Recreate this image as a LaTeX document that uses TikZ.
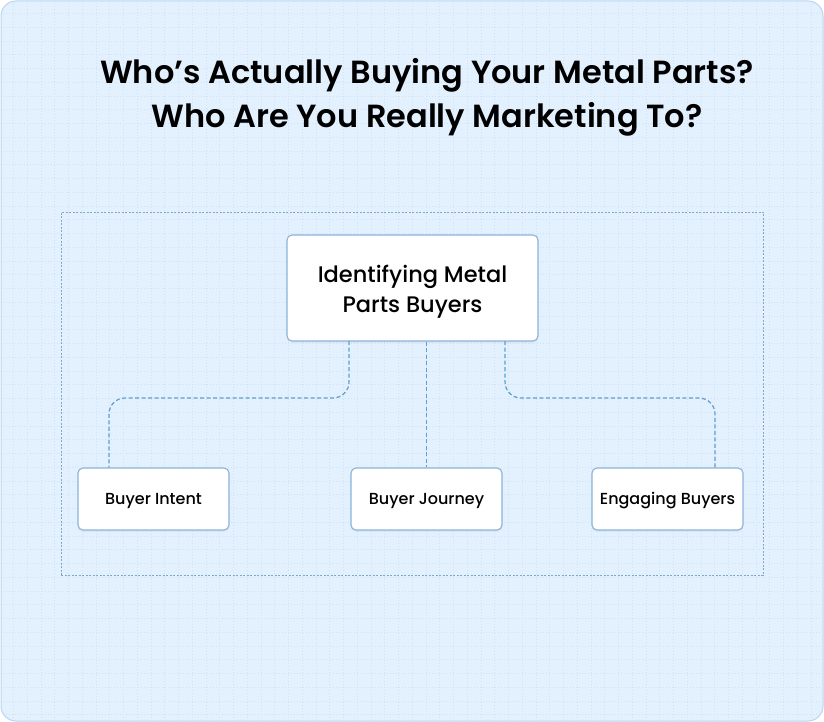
\documentclass[tikz,border=0pt]{standalone}
\usepackage{fontspec}
\setmainfont{Poppins}
\newfontfamily\medfont{Poppins Medium}
\newfontfamily\semifont{Poppins SemiBold}
\usetikzlibrary{shadows}
\definecolor{bgfill}{HTML}{E3F0FD}
\definecolor{bgline}{HTML}{B8D6F2}
\definecolor{gridc}{HTML}{CFE1F3}
\definecolor{framec}{HTML}{7FA8CC}
\definecolor{conn}{HTML}{5C9FD3}
\definecolor{boxline}{HTML}{8BB3DB}
\tikzset{
  topbox/.style={draw=boxline, line width=1.1pt, fill=white, rounded corners=5pt, minimum width=251pt, minimum height=106pt, align=center, font=\medfont\fontsize{22.5}{30}\selectfont, drop shadow={opacity=0.08, shadow xshift=0pt, shadow yshift=-2pt}},
  leafbox/.style={draw=boxline, line width=1.1pt, fill=white, rounded corners=5pt, minimum width=151pt, minimum height=62pt, font=\medfont\fontsize{16}{18}\selectfont, drop shadow={opacity=0.08, shadow xshift=0pt, shadow yshift=-2pt}},
  link/.style={draw=conn, line width=1.2pt, dash pattern=on 4pt off 2.5pt, rounded corners=16pt},
  titletext/.style={font=\semifont\fontsize{32}{44}\selectfont, align=center}
}
\begin{document}
\begin{tikzpicture}[x=1pt,y=-1pt]
\useasboundingbox (0,0) rectangle (824,722);
\path[fill=bgfill, draw=bgline, line width=1pt, rounded corners=15pt] (1,1) rectangle (823,721);
\begin{scope}
\clip[rounded corners=15pt] (1.5,1.5) rectangle (822.5,720.5);
\foreach \i in {0,...,60} {
  \draw[gridc, line width=0.6pt, dash pattern=on 1pt off 2pt] (13.4+13.75*\i,0) -- (13.4+13.75*\i,722);
}
\foreach \j in {0,...,53} {
  \draw[gridc, line width=0.6pt, dash pattern=on 1pt off 2pt] (0,13.4+13.75*\j) -- (824,13.4+13.75*\j);
}
\end{scope}
\node[titletext] (title) at (427,97) {Who’s Actually Buying Your Metal Parts?\\Who Are You Really Marketing To?};
\node[draw=framec, line width=0.8pt, dash pattern=on 2pt off 1.5pt, minimum width=702pt, minimum height=363pt, inner sep=0pt] (frame) at (412,393.5) {};
\node[topbox] (top) at (412.5,288) {\rule{0pt}{25pt}Identifying Metal\\Parts Buyers};
\node[leafbox] (intent) at (153.5,499) {\rule{0pt}{16pt}Buyer Intent};
\node[leafbox] (journey) at (426.5,499) {\rule{0pt}{16pt}Buyer Journey};
\node[leafbox] (engage) at (667.5,499) {\rule{0pt}{16pt}Engaging Buyers};
\coordinate (lt) at (349,341);
\coordinate (rt) at (505,341);
\draw[link] (lt) |- (109,398) -- (intent.north -| 109,0);
\draw[link] (rt) |- (715,398) -- (engage.north -| 715,0);
\draw[link] (journey.north |- top.south) -- (journey.north);
\end{tikzpicture}
\end{document}
